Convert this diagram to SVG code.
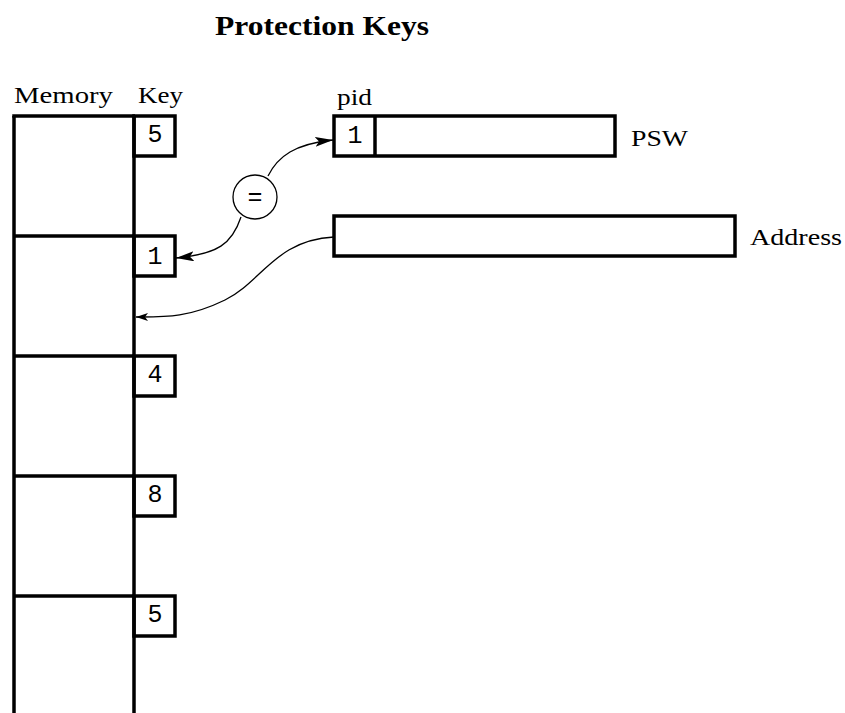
<svg xmlns="http://www.w3.org/2000/svg" width="845" height="713" viewBox="0 0 845 713">
<style>
.box{fill:none;stroke:#000;stroke-width:3.5}
.ln{stroke:#000;stroke-width:3.5;fill:none}
.lbl{font-family:"Liberation Serif",serif;font-size:24px;fill:#000}
.dig{font-family:"Liberation Mono",monospace;font-size:25px;fill:#000;text-anchor:middle}
.con{fill:none;stroke:#000;stroke-width:1.3}
</style>
<defs>
<marker id="ah" markerWidth="18" markerHeight="10" refX="18" refY="5" orient="auto" markerUnits="userSpaceOnUse">
<path d="M0,0 L18,5 L0,10 L4,5 Z" fill="#000"/>
</marker>
<marker id="ahs" markerWidth="12" markerHeight="8" refX="12" refY="4" orient="auto" markerUnits="userSpaceOnUse">
<path d="M0,0 L12,4 L0,8 L3,4 Z" fill="#000"/>
</marker>
</defs>
<rect width="845" height="713" fill="#fff"/>
<text x="215" y="35" font-family="Liberation Serif, serif" font-weight="bold" font-size="27" textLength="214" lengthAdjust="spacingAndGlyphs">Protection Keys</text>

<g id="memory">
<text class="lbl" x="14" y="103" textLength="99" lengthAdjust="spacingAndGlyphs">Memory</text>
<text class="lbl" x="138" y="103" textLength="45" lengthAdjust="spacingAndGlyphs">Key</text>
<line class="ln" x1="14" y1="116" x2="14" y2="715"/>
<line class="ln" x1="134" y1="116" x2="134" y2="715"/>
<line class="ln" x1="12.25" y1="116" x2="135" y2="116"/>
<line class="ln" x1="14" y1="236" x2="135" y2="236"/>
<line class="ln" x1="14" y1="356" x2="135" y2="356"/>
<line class="ln" x1="14" y1="476" x2="135" y2="476"/>
<line class="ln" x1="14" y1="596" x2="135" y2="596"/>
</g>
<g id="key1"><rect class="box" x="134" y="116" width="41" height="40"/><text class="dig" x="155" y="142">5</text></g>
<g id="key2"><rect class="box" x="134" y="236" width="41" height="40"/><text class="dig" x="155" y="264">1</text></g>
<g id="key3"><rect class="box" x="134" y="356" width="41" height="40"/><text class="dig" x="155" y="382">4</text></g>
<g id="key4"><rect class="box" x="134" y="476" width="41" height="40"/><text class="dig" x="155" y="502">8</text></g>
<g id="key5"><rect class="box" x="134" y="596" width="41" height="40"/><text class="dig" x="155" y="622">5</text></g>

<g id="psw">
<text class="lbl" x="337" y="105" textLength="35" lengthAdjust="spacingAndGlyphs">pid</text>
<rect class="box" x="334" y="116" width="281" height="40"/>
<line class="ln" x1="375" y1="116" x2="375" y2="156"/>
<text class="dig" x="355" y="143">1</text>
<text class="lbl" x="631" y="146" textLength="57" lengthAdjust="spacingAndGlyphs">PSW</text>
</g>
<g id="address">
<rect class="box" x="334" y="216" width="401" height="40"/>
<text class="lbl" x="750" y="245" textLength="92" lengthAdjust="spacingAndGlyphs">Address</text>
</g>
<g id="compare">
<circle cx="255" cy="197" r="22" fill="#fff" stroke="#000" stroke-width="1.3"/>
<text class="dig" x="255" y="205">=</text>
</g>
<g id="connectors">
<path class="con" d="M268,176 C278,156 295,144 333,140" marker-end="url(#ah)"/>
<path class="con" d="M241,217 C232,244 218,254 176,258" marker-end="url(#ah)"/>
<path class="con" d="M334,237 C275,240 262,282 225,300 S165,317 136,317" marker-end="url(#ahs)"/>
</g>
</svg>
